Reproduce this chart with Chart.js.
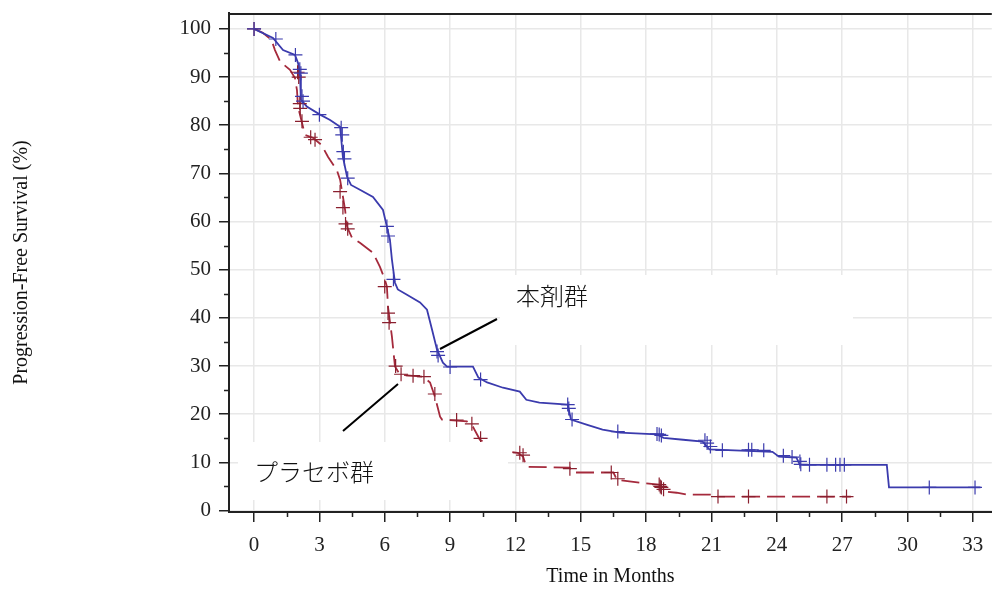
<!DOCTYPE html>
<html><head><meta charset="utf-8">
<script src="https://cdn.jsdelivr.net/npm/chart.js@4/dist/chart.umd.min.js"></script>
<style>html,body{margin:0;padding:0;background:#fff;overflow:hidden}#wrap{position:relative;width:992px;height:590px;overflow:hidden}</style>
</head><body><div id="wrap"><canvas id="c" width="1000" height="590"></canvas></div>
<script>
// ---- data ----
const xTicks = [0, 3, 6, 9, 12, 15, 18, 21, 24, 27, 30, 33];
const yTicks = [0, 10, 20, 30, 40, 50, 60, 70, 80, 90, 100];
const xMinorTicks = [1.5, 4.5, 7.5, 10.5, 13.5, 16.5, 19.5, 22.5, 25.5, 28.5, 31.5];
const yMinorTicks = [5, 15, 25, 35, 45, 55, 65, 75, 85, 95];

const treatName = "本剤群";
const placeboName = "プラセボ群";

const treatTime = [0, 0.87, 1.33, 1.88, 2.02, 2.11, 2.15, 2.42, 3.03, 3.49, 3.95, 4.08, 4.27, 4.45, 4.86, 5.46, 5.92, 6.1, 6.24, 6.33, 6.47, 6.6, 7.02, 7.62, 7.94, 8.17, 8.4, 8.67, 8.86, 10.05, 10.3, 10.7, 11.43, 12.2, 12.5, 13.1, 14.4, 14.55, 15.3, 16.0, 16.8, 18.5, 18.8, 19.7, 20.6, 20.9, 23.8, 24.1, 24.9, 25.06, 29.05, 29.15, 33.35];
const treatPFS  = [100, 98.1, 95.6, 94.6, 92.9, 90.5, 85.3, 83.9, 82.2, 81.1, 79.7, 73.4, 69.3, 67.6, 66.6, 65.1, 62.4, 58.9, 56.2, 52.1, 47.3, 45.9, 44.8, 43.2, 41.7, 37.6, 33.4, 30.7, 29.9, 29.9, 27.6, 26.6, 25.5, 24.7, 23.0, 22.4, 22.0, 18.9, 17.8, 16.8, 16.2, 15.8, 15.1, 14.7, 14.3, 12.7, 12.2, 11.2, 11.0, 9.5, 9.5, 4.8, 4.8];

const placeboTime = [0, 0.4, 0.8, 0.96, 1.2, 1.65, 1.88, 1.97, 2.02, 2.2, 2.34, 2.7, 3.1, 3.4, 3.8, 3.95, 4.05, 4.18, 4.27, 4.5, 4.86, 5.46, 5.78, 6.01, 6.1, 6.15, 6.33, 6.47, 6.7, 7.76, 8.08, 8.3, 8.54, 8.63, 9.77, 10.05, 10.37, 10.9, 11.6, 12.1, 12.35, 12.5, 14.5, 14.64, 16.5, 16.66, 17.7, 18.6, 18.9, 19.4, 19.9, 21.0, 21.1, 27.4];
const placeboPFS  = [100, 99.2, 97.7, 95.6, 93.2, 91.5, 89.8, 87.3, 83.8, 80.5, 78.0, 77.4, 75.9, 73.4, 70.7, 68.7, 66.0, 62.4, 58.9, 56.6, 55.6, 53.5, 50.6, 47.9, 46.5, 42.3, 36.1, 29.9, 28.2, 27.8, 26.6, 23.7, 19.5, 18.9, 18.5, 17.4, 14.7, 13.3, 12.3, 12.0, 11.2, 9.1, 8.9, 7.9, 7.9, 6.4, 5.8, 5.4, 3.9, 3.7, 3.3, 3.3, 2.9, 2.9];

const treatCensorTime = [0, 1.0, 1.9, 2.1, 2.15, 2.2, 2.25, 3.0, 4.0, 4.05, 4.1, 4.15, 4.3, 6.1, 6.15, 6.4, 8.4, 8.45, 9.0, 10.4, 14.4, 14.45, 14.6, 16.7, 18.5, 18.6, 18.7, 20.7, 20.8, 20.95, 21.5, 22.7, 22.85, 23.4, 24.3, 24.7, 25.06, 25.1, 25.5, 26.3, 26.7, 26.9, 27.1, 31.0, 33.1];
const treatCensorPFS  = [100, 97.9, 94.6, 91.6, 90.8, 86, 85, 82.2, 79.5, 78, 74.5, 73, 69, 59, 57, 48, 33, 32.2, 29.8, 27.2, 22, 21.2, 18.9, 16.4, 15.9, 15.8, 15.6, 14.6, 14.0, 13.3, 12.5, 12.6, 12.6, 12.5, 11.4, 11.1, 10.2, 9.6, 9.5, 9.5, 9.5, 9.5, 9.5, 4.8, 4.8];

const placeboCensorTime = [0, 2.0, 2.05, 2.1, 2.12, 2.2, 2.6, 2.8, 3.95, 4.08, 4.2, 4.3, 6.0, 6.15, 6.2, 6.5, 6.75, 7.3, 7.8, 8.3, 9.3, 10.0, 10.4, 12.2, 12.35, 14.5, 16.4, 16.7, 18.6, 18.65, 18.7, 18.8, 21.3, 22.7, 26.3, 27.2];
const placeboCensorPFS  = [100, 91, 90, 84.5, 83.5, 80.8, 77.5, 77, 66.2, 62.9, 59.5, 58.5, 46.5, 41, 39, 30, 28.3, 28, 27.8, 24.2, 18.8, 18, 15, 12, 11.5, 8.7, 7.9, 6.6, 5.4, 5.0, 4.8, 4.4, 2.9, 2.9, 2.9, 2.9];

// ---- styling ----
const blue = '#3b3bad';
const red = '#a52a3c';
const redMark = '#8a1f2e';
const serif = "'Liberation Serif', 'DejaVu Serif', serif";
const cjk = "'Noto Sans CJK JP', 'Noto Sans', sans-serif";

const toPts = (xs, ys) => xs.map((x, i) => ({x: x, y: ys[i]}));

const decor = {
  id: 'decor',
  beforeDatasetsDraw(chart) {
    const {ctx, chartArea: a, scales: {x, y}} = chart;
    ctx.save();
    ctx.strokeStyle = '#222';
    ctx.lineWidth = 1.5;
    ctx.beginPath();
    xMinorTicks.forEach(v => { const px = Math.round(x.getPixelForValue(v)) + 0.5; ctx.moveTo(px, a.bottom); ctx.lineTo(px, a.bottom + 5); });
    yMinorTicks.forEach(v => { const py = Math.round(y.getPixelForValue(v)) + 0.5; ctx.moveTo(a.left, py); ctx.lineTo(a.left - 5, py); });
    ctx.stroke();
    ctx.lineWidth = 2;
    ctx.beginPath();
    ctx.moveTo(a.left, a.top + 1); ctx.lineTo(a.right, a.top + 1);
    ctx.stroke();
    ctx.restore();
  },
  afterDatasetsDraw(chart) {
    const {ctx} = chart;
    ctx.save();
    ctx.fillStyle = '#fff';
    ctx.fillRect(500, 275, 353, 70);
    ctx.fillRect(238, 442, 270, 58);
    ctx.strokeStyle = '#000';
    ctx.lineWidth = 2;
    ctx.beginPath();
    ctx.moveTo(440, 349); ctx.lineTo(497, 319);
    ctx.moveTo(343, 431); ctx.lineTo(398, 384);
    ctx.stroke();
    ctx.fillStyle = '#111';
    ctx.font = '300 24px ' + cjk;
    ctx.textBaseline = 'middle';
    ctx.textAlign = 'left';
    ctx.fillText(treatName, 516, 296);
    ctx.fillText(placeboName, 254, 472);
    ctx.restore();
  }
};

new Chart(document.getElementById('c'), {
  type: 'line',
  data: {
    datasets: [
      {label: treatName + ' censored', type: 'scatter', data: toPts(treatCensorTime, treatCensorPFS), pointStyle: 'cross', pointRadius: 7, borderColor: blue, backgroundColor: blue, borderWidth: 1.2, showLine: false},
      {label: placeboName + ' censored', type: 'scatter', data: toPts(placeboCensorTime, placeboCensorPFS), pointStyle: 'cross', pointRadius: 7, borderColor: redMark, backgroundColor: redMark, borderWidth: 1.2, showLine: false},
      {label: treatName, data: toPts(treatTime, treatPFS), borderColor: blue, borderWidth: 1.8, pointRadius: 0, fill: false, tension: 0},
      {label: placeboName, data: toPts(placeboTime, placeboPFS), borderColor: red, borderWidth: 1.8, borderDash: [18, 7], pointRadius: 0, fill: false, tension: 0}
    ]
  },
  options: {
    responsive: false,
    animation: false,
    devicePixelRatio: 1,
    layout: {padding: {left: 0, right: 0, top: 13, bottom: 0}},
    plugins: {legend: {display: false}, tooltip: {enabled: false}},
    scales: {
      x: {
        type: 'linear', min: -1.15, max: 33.87,
        afterBuildTicks: s => { s.ticks = xTicks.map(v => ({value: v})); },
        afterFit: s => { s.height = 78; s.paddingLeft = 0; s.paddingRight = 0; },
        ticks: {font: {family: serif, size: 21}, color: '#222', padding: 11, maxRotation: 0, autoSkip: false},
        grid: {color: '#e8e8e8', lineWidth: 1.5, tickLength: 10, tickColor: '#222', tickWidth: 1.5},
        border: {display: true, color: '#222', width: 2},
        title: {display: true, text: 'Time in Months', font: {family: serif, size: 20}, color: '#111', padding: {top: 2, bottom: 1}}
      },
      y: {
        type: 'linear', min: -0.3, max: 103.3,
        afterBuildTicks: s => { s.ticks = yTicks.map(v => ({value: v})); },
        afterFit: s => { s.width = 229; s.paddingTop = 0; s.paddingBottom = 0; },
        ticks: {font: {family: serif, size: 21}, color: '#222', padding: 8, autoSkip: false},
        grid: {color: '#e8e8e8', lineWidth: 1.5, tickLength: 10, tickColor: '#222', tickWidth: 1.5},
        border: {display: true, color: '#222', width: 2},
        title: {display: true, text: 'Progression-Free Survival (%)', font: {family: serif, size: 20}, color: '#111', padding: {top: 10, bottom: 0}}
      }
    }
  },
  plugins: [decor]
});
</script>
</body></html>
